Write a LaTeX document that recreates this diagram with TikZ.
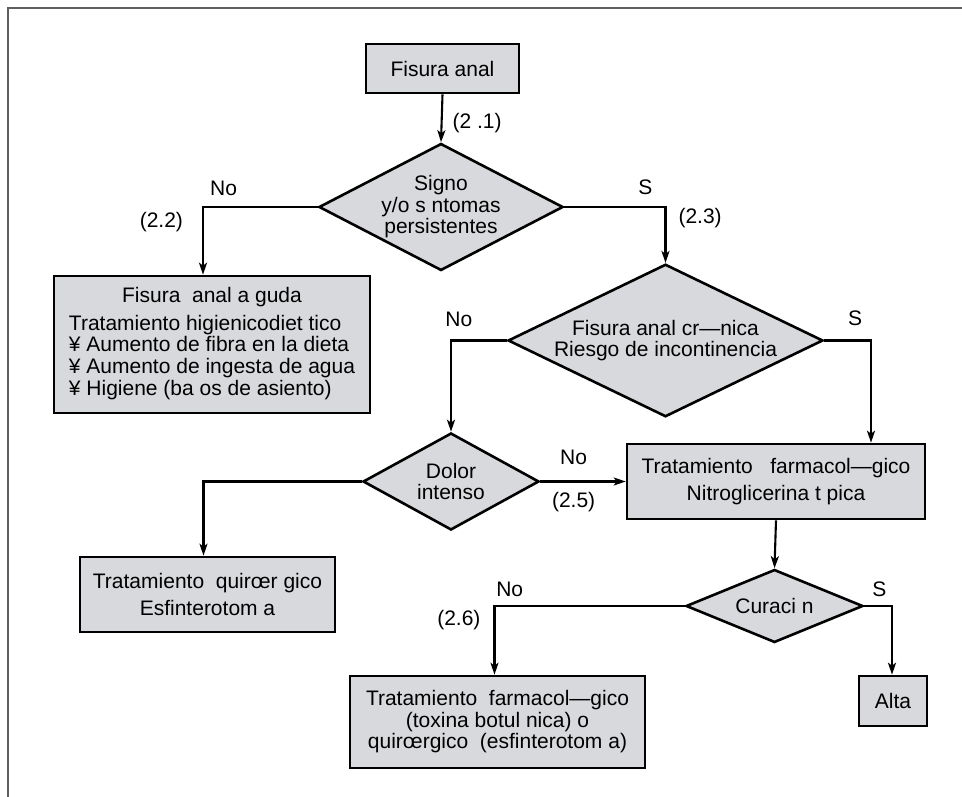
\documentclass[tikz,border=0pt]{standalone}
\usepackage{fontspec}
\setmainfont{Liberation Sans}
\usetikzlibrary{shapes.geometric,arrows.meta}

\definecolor{boxgray}{RGB}{216,217,220}
\definecolor{framegray}{RGB}{95,95,95}

\tikzset{
  stepbox/.style={draw, line width=2.6pt, fill=boxgray, inner sep=0pt, align=center},
  decision/.style={diamond, aspect=2, draw, line width=2.6pt, fill=boxgray, inner sep=0pt, align=center},
  flow/.style={line width=2.1pt, -{Stealth[length=12pt,width=8pt,inset=3pt]}},
  tag/.style={inner sep=0pt}
}

\begin{document}
\begin{tikzpicture}[x=1pt, y=-1pt, font=\fontsize{21}{21.5}\selectfont]
    \useasboundingbox (0,0) rectangle (962,797);

    %Frame
    \draw[framegray, line width=1.5pt] (8,797) -- (8,8) -- (962,8);

    %Nodes
    \node[stepbox, minimum width=153pt, minimum height=49pt] (inicio) at (442.5,68.5)
       {Fisura anal};

    \node[decision, minimum width=236pt, minimum height=127pt] (signos) at (441,207)
       {Signo\\y/o s ntomas\\persistentes};

    \node[stepbox, minimum width=316pt, minimum height=137pt] (aguda) at (212,344.5)
       {\begin{tabular}{@{}l@{}}
        \multicolumn{1}{@{}c@{}}{Fisura\ \ anal a guda}\\[6pt]
        Tratamiento higienicodiet tico\\
        ¥ Aumento de fibra en la dieta\\
        ¥ Aumento de ingesta de agua\\
        ¥ Higiene (ba os de asiento)
        \end{tabular}};

    \node[decision, minimum width=315pt, minimum height=145pt] (cronica) at (665.5,340.5)
       {Fisura anal cr—nica\\Riesgo de incontinencia};

    \node[decision, minimum width=176pt, minimum height=97pt] (dolor) at (451,481.5)
       {Dolor\\intenso};

    \node[stepbox, minimum width=298pt, minimum height=75pt] (farmaco) at (776,481.5)
       {Tratamiento\ \ \ farmacol—gico\\[5pt]Nitroglicerina t pica};

    \node[stepbox, minimum width=255pt, minimum height=75pt] (quirurgico) at (207.5,594.5)
       {Tratamiento\ \ quirœr gico\\[5pt]Esfinterotom a};

    \node[decision, minimum width=177pt, minimum height=73pt] (curacion) at (774.5,606)
       {Curaci n};

    \node[stepbox, minimum width=295pt, minimum height=92pt] (toxina) at (497.5,722)
       {Tratamiento\ \ farmacol—gico\\(toxina botul nica) o\\quirœrgico\ \ (esfinterotom a)};

    \node[stepbox, minimum width=68pt, minimum height=50pt] (alta) at (893,701)
       {Alta};

    %Connectors
    \draw[flow] (inicio.south) -- (signos.north)
       node[tag, pos=0.6, right=10pt] {(2 .1)};

    \draw[flow] (signos.west) -| ([xshift=-9pt]aguda.north)
       node[tag, pos=0.41, above=10pt] {No}
       node[tag, pos=0.61, left=19pt] {(2.2)};

    \draw[flow] (signos.east) -| (cronica.north)
       node[tag, pos=0.40, above=11pt] {S}
       node[tag, pos=0.6, right=12pt] {(2.3)};

    \draw[flow] (cronica.west) -| (dolor.north)
       node[tag, pos=0.43, above=13pt] {No};

    \draw[flow] (cronica.east) -| ([xshift=95pt]farmaco.north)
       node[tag, pos=0.33, above=14pt] {S};

    \draw[flow] (dolor.east) -- (farmaco.west)
       node[tag, pos=0.39, above=16pt] {No}
       node[tag, pos=0.39, below=10pt] {(2.5)};

    \draw[flow] (dolor.west) -| ([xshift=-4pt]quirurgico.north);

    \draw[flow] (farmaco.south) -- (curacion.north);

    \draw[flow] (curacion.west) -| ([xshift=-3pt]toxina.north)
       node[tag, pos=0.46, above=8pt] {No}
       node[tag, pos=0.6, left=13pt] {(2.6)};

    \draw[flow] (curacion.east) -| ([xshift=-1pt]alta.north)
       node[tag, pos=0.27, above=8pt] {S};
\end{tikzpicture}
\end{document}
